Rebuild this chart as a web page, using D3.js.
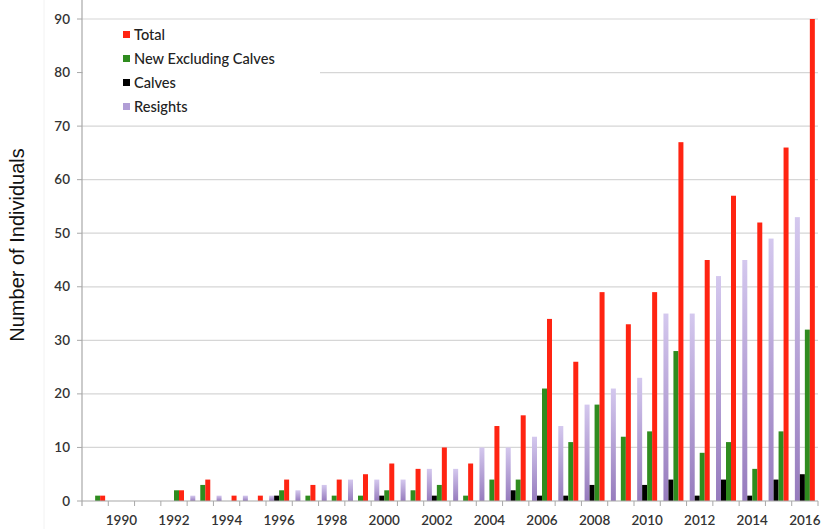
<!DOCTYPE html>
<html><head><meta charset="utf-8">
<script src="https://cdn.jsdelivr.net/npm/d3@7"></script>
<style>body{margin:0;background:#fff}svg{display:block}</style>
</head><body><svg id="c" width="825" height="529"></svg>
<script>
const years = d3.range(1989, 2017);
const resights = [0,0,0,0,1,1,1,1,2,3,4,4,4,6,6,10,10,12,14,18,21,23,35,35,42,45,49,53];
const calves   = [0,0,0,0,0,0,0,1,0,0,0,1,0,1,0,0,2,1,1,3,0,3,4,1,4,1,4,5];
const newExcl  = [1,0,0,2,3,0,0,2,1,1,1,2,2,3,1,4,4,21,11,18,12,13,28,9,11,6,13,32];
const total    = [1,0,0,2,4,1,1,4,3,4,5,7,6,10,7,14,16,34,26,39,33,39,67,45,57,52,66,90];
const yTicks = [0,10,20,30,40,50,60,70,80,90];
const xLabels = [1990,1992,1994,1996,1998,2000,2002,2004,2006,2008,2010,2012,2014,2016];
const seriesKeys = ["Resights","Calves","New Excluding Calves","Total"];
const seriesVals = {"Resights":resights,"Calves":calves,"New Excluding Calves":newExcl,"Total":total};
const legendOrder = ["Total","New Excluding Calves","Calves","Resights"];
const colors = {"Total":"#ff2412","New Excluding Calves":"#2f8c1f","Calves":"#000000","Resights":"url(#purp)"};
const legendColors = {"Total":"#ff2412","New Excluding Calves":"#2f8c1f","Calves":"#000000","Resights":"#b19ed6"};

const svg = d3.select("#c");
const L = 82, R = 818, T = 19, B = 501;
const defs = svg.append("defs");
const g = defs.append("linearGradient").attr("id","purp").attr("x1",0).attr("y1",0).attr("x2",0).attr("y2",1);
g.append("stop").attr("offset","0%").attr("stop-color","#d4c8ee");
g.append("stop").attr("offset","100%").attr("stop-color","#967bbd");

const y = d3.scaleLinear().domain([0,90]).range([B,T]);
const x0 = d3.scaleBand().domain(years).range([L,R]).paddingInner(0.24).paddingOuter(0.12);
const x1 = d3.scaleBand().domain(seriesKeys).range([0,x0.bandwidth()]);

// faint frame line
svg.append("line").attr("x1",44).attr("x2",44).attr("y1",0).attr("y2",529).attr("stroke","#f2f2f2");

// gridlines
svg.append("g").selectAll("line").data(yTicks.filter(d=>d>0)).join("line")
  .attr("x1",L).attr("x2",R).attr("y1",d=>y(d)).attr("y2",d=>y(d))
  .attr("stroke","#d6d6d6").attr("stroke-width",1.2);

// legend background hides gridline
svg.append("rect").attr("x",L+1).attr("y",24).attr("width",320-L-1).attr("height",94).attr("fill","#fff");

// bars
const gy = svg.append("g");
years.forEach((yr,i)=>{
  seriesKeys.forEach(k=>{
    const v = seriesVals[k][i];
    if (v<=0) return;
    gy.append("rect")
      .attr("x", x0(yr)+x1(k)).attr("width", x1.bandwidth())
      .attr("y", y(v)).attr("height", B - y(v))
      .attr("fill", colors[k]);
  });
});

// y axis
svg.append("line").attr("x1",L).attr("x2",L).attr("y1",0).attr("y2",506).attr("stroke","#a8a8a8").attr("stroke-width",1.2);
const ya = svg.append("g");
ya.selectAll("line").data(yTicks).join("line")
  .attr("x1",L-5).attr("x2",L).attr("y1",d=>y(d)).attr("y2",d=>y(d)).attr("stroke","#a8a8a8");
ya.selectAll("text").data(yTicks).join("text")
  .attr("x",70).attr("y",d=>y(d)+4.5).attr("text-anchor","end")
  .attr("font-family","Lato, sans-serif").attr("font-size",13.5).attr("font-weight",600).attr("fill","#333")
  .text(d=>d);

// x axis
svg.append("line").attr("x1",L).attr("x2",R).attr("y1",B).attr("y2",B).attr("stroke","#a8a8a8").attr("stroke-width",1.2);
const step = x0.step();
const bounds = years.map((yr,i)=> x0(yr) - x0.paddingInner()*step/2 + step);
svg.append("g").selectAll("line").data(bounds).join("line")
  .attr("x1",d=>d).attr("x2",d=>d).attr("y1",B).attr("y2",B+5).attr("stroke","#a8a8a8");
svg.append("g").selectAll("text").data(xLabels).join("text")
  .attr("x",d=>x0(d)+x0.bandwidth()/2).attr("y",525).attr("text-anchor","middle")
  .attr("font-family","Lato, sans-serif").attr("font-size",13.5).attr("font-weight",600).attr("fill","#333")
  .text(d=>d);

// y title
svg.append("text").attr("transform","translate(24,245) rotate(-90)").attr("text-anchor","middle")
  .attr("font-family","Liberation Sans, Arial, sans-serif").attr("font-size",20).attr("fill","#111")
  .text("Number of Individuals");

// legend
const lg = svg.append("g");
legendOrder.forEach((k,i)=>{
  const yy = 35 + i*24;
  lg.append("rect").attr("x",123).attr("y",yy-4).attr("width",7).attr("height",7).attr("fill",legendColors[k]);
  lg.append("text").attr("x",134).attr("y",yy+5)
    .attr("font-family","Lato, sans-serif").attr("font-size",14.6).attr("font-weight",500).attr("fill","#222").text(k);
});
</script></body></html>
